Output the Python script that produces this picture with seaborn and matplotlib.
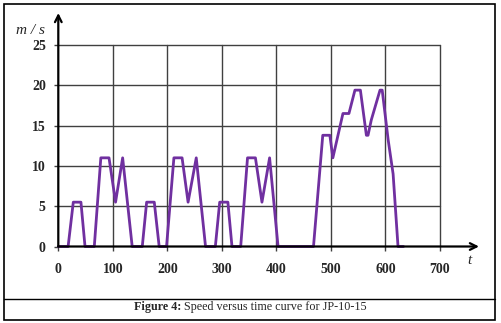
import matplotlib
matplotlib.use("Agg")
import matplotlib.pyplot as plt
import seaborn as sns
import pandas as pd
from matplotlib.patches import Rectangle
from matplotlib.lines import Line2D

# Data
time_s = [0, 18, 27.5, 41.5, 49, 66, 78, 93, 105, 118, 135.5,
          154, 162, 176, 185, 198.5, 212, 227, 238, 253, 270,
          288, 296, 311, 318.5, 334.5, 347, 361.5, 373.5, 387.5, 403,
          468, 485, 498, 503.5, 522, 533, 544, 554, 565, 568, 574,
          590, 594, 605, 614, 623, 633]
speed_ms = [0, 0, 5.5, 5.5, 0, 0, 11, 11, 5.5, 11, 0,
            0, 5.5, 5.5, 0, 0, 11, 11, 5.5, 11, 0,
            0, 5.5, 5.5, 0, 0, 11, 11, 5.5, 11, 0,
            0, 13.8, 13.8, 11, 16.5, 16.5, 19.4, 19.4, 13.8, 13.8, 15.7,
            19.4, 19.4, 13.2, 9.0, 0, 0]
x_ticks = [0, 100, 200, 300, 400, 500, 600, 700]
y_ticks = [0, 5, 10, 15, 20, 25]
caption_bold = "Figure 4:"
caption_rest = " Speed versus time curve for JP-10-15"

sns.set_theme(style="white")
plt.rcParams["font.family"] = ["Liberation Serif", "DejaVu Serif"]

df = pd.DataFrame({"t": time_s, "v": speed_ms})

fig = plt.figure(figsize=(5.01, 3.23), dpi=100)
W, H = 501, 323
ax = fig.add_axes([58.3 / W, 1 - 246.5 / H, (440 - 58.3) / W, (246.5 - 45) / H])

sns.lineplot(data=df, x="t", y="v", ax=ax, color="#7030A0", linewidth=2.0,
             sort=False, estimator=None, zorder=5, clip_on=False)

ax.set_xlim(0, 700)
ax.set_ylim(0, 25)
ax.set_xticks(x_ticks)
ax.set_yticks(y_ticks)
ax.set_xticklabels([str(v) for v in x_ticks], fontweight="bold", fontsize=10)
ax.set_yticklabels([str(v) for v in y_ticks], fontweight="bold", fontsize=10)
ax.tick_params(axis="x", length=3, width=1, color="#404040", pad=9, bottom=True)
ax.tick_params(axis="y", length=3, width=1, color="#404040", pad=6, left=True)
ax.set_xlabel("")
ax.set_ylabel("")
for s in ax.spines.values():
    s.set_visible(False)

for xv in x_ticks[1:]:
    ax.axvline(xv, color="#404040", lw=1.0, zorder=1, clip_on=False)
for yv in y_ticks[1:]:
    ax.axhline(yv, color="#404040", lw=1.0, zorder=1, clip_on=False)

# axis arrows
ax.annotate("", xy=(0, (246.5 - 13) / (246.5 - 45)), xytext=(0, 0),
            xycoords="axes fraction", textcoords="axes fraction",
            arrowprops=dict(arrowstyle="->", color="black", lw=1.6,
                            mutation_scale=12, shrinkA=0, shrinkB=0), zorder=6)
ax.annotate("", xy=((479 - 58.3) / (440 - 58.3), 0), xytext=(0, 0),
            xycoords="axes fraction", textcoords="axes fraction",
            arrowprops=dict(arrowstyle="->", color="black", lw=1.6,
                            mutation_scale=12, shrinkA=0, shrinkB=0), zorder=6)

fig.text(30 / W, 1 - 30 / H, "m / s", style="italic", fontsize=11,
         ha="center", va="center")
fig.text(469 / W, 1 - 261 / H, "t", style="italic", fontsize=11,
         ha="center", va="center")

# border and caption box
fig.add_artist(Rectangle((3.5 / W, 1 - 320 / H), (495 - 3.5) / W, (320 - 3.5) / H,
                         transform=fig.transFigure, fill=False,
                         edgecolor="black", lw=1.2))
fig.add_artist(Line2D([3.5 / W, 495 / W], [1 - 299 / H, 1 - 299 / H],
                      transform=fig.transFigure, color="black", lw=1.0))

cap_fs = 8.7
renderer = fig.canvas.get_renderer()
tb = fig.text(0, 1 - 307 / H, caption_bold, fontsize=cap_fs, fontweight="bold",
              ha="left", va="center")
tr = fig.text(0, 1 - 307 / H, caption_rest, fontsize=cap_fs,
              ha="left", va="center")
wb = tb.get_window_extent(renderer).width
wr = tr.get_window_extent(renderer).width
start = 250 - (wb + wr) / 2
tb.set_x(start / W)
tr.set_x((start + wb) / W)

fig.savefig("out.png", dpi=100)
